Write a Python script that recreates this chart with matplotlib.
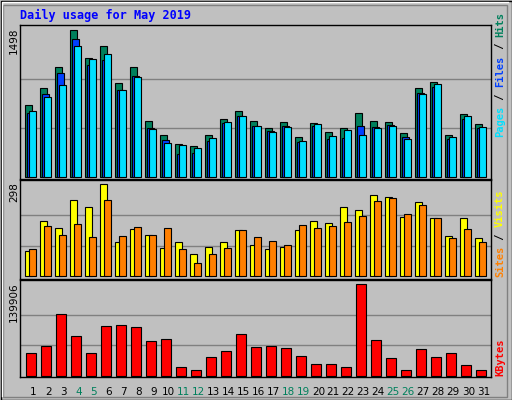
import numpy as np
import matplotlib
matplotlib.use('Agg')
import matplotlib.pyplot as plt
from matplotlib.patches import Rectangle

days = list(range(1, 32))
weekend = [4, 5, 11, 12, 18, 19, 25, 26]

hits = [725, 898, 1112, 1498, 1213, 1335, 949, 1112, 563, 420, 329, 308, 420, 583, 674, 563,
        491, 552, 400, 542, 451, 491, 644, 563, 552, 441, 898, 969, 420, 634, 532]
files = [644, 837, 1051, 1406, 1132, 1183, 878, 1020, 491, 369, 227, 237, 359, 542, 613, 512,
         461, 512, 349, 512, 380, 390, 512, 502, 522, 400, 847, 918, 380, 583, 491]
pages = [674, 807, 929, 1335, 1203, 1254, 878, 1010, 481, 339, 319, 288, 390, 552, 613, 512,
         451, 502, 359, 532, 410, 471, 420, 491, 512, 380, 837, 939, 400, 613, 502]
sites = [81, 178, 155, 246, 224, 298, 110, 152, 133, 91, 110, 71, 94, 110, 149, 100,
         87, 94, 149, 178, 172, 224, 214, 262, 256, 191, 240, 188, 130, 188, 123]
visits = [87, 162, 133, 168, 126, 246, 130, 159, 133, 155, 87, 42, 71, 91, 149, 126,
          113, 100, 165, 155, 162, 175, 194, 243, 253, 201, 230, 188, 123, 152, 110]
kbytes = [34210, 44930, 93950, 60250, 34210, 75570, 77100, 74040, 52590, 55660, 12770, 8170,
          28080, 37270, 63310, 43400, 44930, 41870, 29610, 17360, 17360, 12770, 139906, 54120,
          26550, 8170, 40340, 28080, 34210, 15830, 8170]

BG = '#c0c0c0'
W, H = 512, 400
fig = plt.figure(figsize=(5.12, 4.0), dpi=100, facecolor=BG)
mono = 'DejaVu Sans Mono'

def px_axes(x0, y0, x1, y1):
    return fig.add_axes([x0 / W, 1 - y1 / H, (x1 - x0) / W, (y1 - y0) / H])

x = np.arange(31)
bar_kw = dict(edgecolor='black', linewidth=0.8, align='edge')

def style(ax, top, lo, hi):
    ax.set_facecolor(BG)
    ax.set_xlim(0, 31.4)
    ax.set_ylim(lo, hi)
    for v in (top / 3, top * 2 / 3):
        ax.axhline(v, color='#808080', lw=1, zorder=0)
    ax.set_xticks([])
    ax.set_yticks([])
    for s in ax.spines.values():
        s.set_color('black')
        s.set_linewidth(1)

ax1 = px_axes(20, 25, 491, 179)
style(ax1, 1498, -23, 1544)
ax1.bar(x + 0.36, hits, 0.47, color='#00805c', **bar_kw)
ax1.bar(x + 0.49, files, 0.47, color='#0040ff', **bar_kw)
ax1.bar(x + 0.62, pages, 0.47, color='#00e0ff', **bar_kw)

ax2 = px_axes(20, 180, 491, 279)
style(ax2, 298, -8.7, 312)
ax2.bar(x + 0.36, sites, 0.47, color='#ffff00', **bar_kw)
ax2.bar(x + 0.62, visits, 0.47, color='#ff8000', **bar_kw)

ax3 = px_axes(20, 280, 491, 377)
style(ax3, 139906, -2000, 146500)
ax3.bar(x + 0.42, kbytes, 0.67, color='#ff0000', **bar_kw)

# day labels
for i, d in enumerate(days):
    c = '#00805c' if d in weekend else 'black'
    ax3.text(i + 0.89, -0.1, str(d), transform=ax3.get_xaxis_transform(), ha='center', va='top',
             fontsize=7.5, family='DejaVu Sans', color=c)

# max labels on left
for y_px, s in [(27, '1498'), (182, '298'), (282, '139906')]:
    fig.text(14 / W, 1 - y_px / H, s, rotation=90, ha='center', va='top', fontsize=7.5,
             family='DejaVu Sans', color='black')

# right side labels
fs = 7.5
cw = 0.602 * fs * 100 / 72
def right_label(segs, y_bottom):
    y = y_bottom
    for s, c in segs:
        fig.text(500 / W, 1 - y / H, s, rotation=90, ha='center', va='bottom', fontsize=fs,
                 family=mono, fontweight='bold', color=c)
        y -= cw * len(s)

right_label([('Pages', '#00e0ff'), (' / ', 'black'), ('Files', '#0040ff'), (' / ', 'black'),
             ('Hits', '#00805c')], 137)
right_label([('Sites', '#ff8000'), (' / ', 'black'), ('Visits', '#ffff00')], 277)
right_label([('KBytes', '#ff0000')], 376)

fig.text(20 / W, 1 - 15 / H, 'Daily usage for May 2019', ha='left', va='center', fontsize=8.5,
         family=mono, fontweight='bold', color='#0000ff')

# bevelled border
fig.patches.append(Rectangle((0.5 / W, 0.5 / H), 1 - 1 / W, 1 - 1 / H, transform=fig.transFigure,
                             fill=False, edgecolor='black', lw=1))
fig.patches.append(Rectangle((3 / W, 3 / H), 1 - 8 / W, 1 - 8 / H, transform=fig.transFigure,
                             fill=False, edgecolor='#808080', lw=1))
fig.lines.append(plt.Line2D([2 / W, 2 / W, 1 - 4 / W], [4 / H, 1 - 2 / H, 1 - 2 / H],
                            transform=fig.transFigure, color='white', lw=1))

fig.savefig('out.png', dpi=100, facecolor=BG)
